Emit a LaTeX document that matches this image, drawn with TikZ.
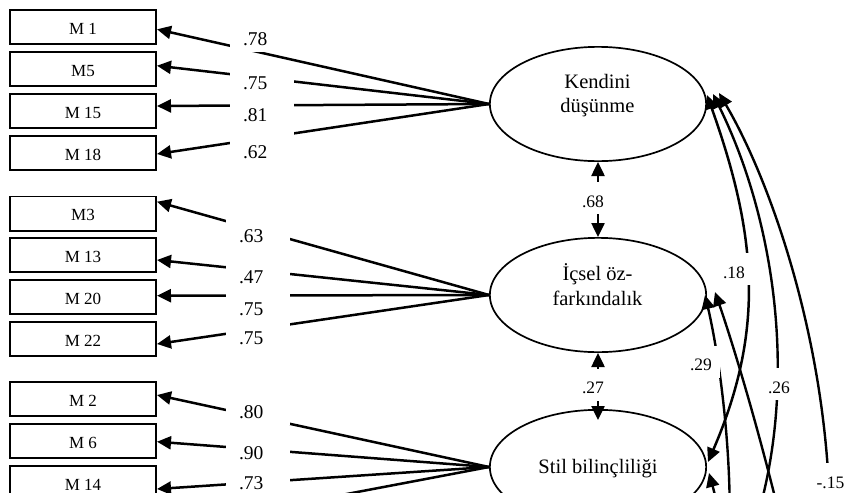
\documentclass[tikz,border=0pt]{standalone}
\usepackage{fontspec}
\setmainfont{Liberation Serif}
\usetikzlibrary{arrows.meta,shapes.geometric,calc}
\newcommand{\lablft}[1]{\makebox[64pt][l]{\hspace*{13pt}#1}}
\begin{document}
\begin{tikzpicture}[x=1pt,y=-1pt,
  mbox/.style={rectangle, draw, line width=1.9pt, minimum width=146.1pt, minimum height=34.1pt,
    inner sep=0pt, text height=14.8pt, text depth=0pt, font=\fontsize{17}{20}\selectfont},
  ell/.style={ellipse, draw, line width=1.7pt, minimum width=216.3pt, minimum height=114.3pt, inner sep=0pt},
  etext/.style={inner sep=0pt, font=\fontsize{20.5}{24}\selectfont},
  tip/.tip={Triangle[length=14pt, width=13pt]},
  load/.style={line width=2.5pt, -tip},
  dbl/.style={line width=2.5pt, tip-tip},
  covs/.style={line width=2.4pt, tip-},
  lab/.style={fill=white, inner sep=0pt, minimum height=33pt, text height=20.2pt, text depth=0pt,
    font=\fontsize{19.5}{20}\selectfont},
  rlab/.style={fill=white, inner sep=0pt, minimum width=38pt, minimum height=32pt, text height=18.8pt,
    text depth=0pt, font=\fontsize{17.5}{18}\selectfont}]
\path[use as bounding box] (0,0) rectangle (847,493);
\clip (0,0) rectangle (847,493);

% observed variables
\node[mbox] (m1)  at (83,27)    {M 1};
\node[mbox] (m5)  at (83,69)    {M5};
\node[mbox] (m15) at (83,111)   {M 15};
\node[mbox] (m18) at (83,153)   {M 18};
\node[mbox] (m3)  at (83,213.5) {M3};
\node[mbox] (m13) at (83,255)   {M 13};
\node[mbox] (m20) at (83,297)   {M 20};
\node[mbox] (m22) at (83,339)   {M 22};
\node[mbox] (m2)  at (83,399)   {M 2};
\node[mbox] (m6)  at (83,441)   {M 6};
\node[mbox] (m14) at (83,483)   {M 14};
\coordinate (h4) at (157,530);

% latent variables
\node[ell] (k) at (598,104) {};
\node[ell] (i) at (598,295) {};
\node[ell] (s) at (598,467) {};
\node[etext, anchor=base] (k1) at (597.5,88.3)  {Kendini};
\node[etext, anchor=base] (k2) at (597.5,112.7) {düşünme};
\node[etext, anchor=base] (i1) at (597.5,280)   {İçsel öz-};
\node[etext, anchor=base] (i2) at (597.5,305)   {farkındalık};
\node[etext, anchor=base] (s1) at (598,473.3)   {Stil bilinçliliği};

% hidden ends below the visible part
\coordinate (fb) at (709,625);
\coordinate (fc) at (829,490);
\coordinate (fd) at (712,640);
\coordinate (fe) at (790,560);
\coordinate (ff) at (712,640);

% loadings
\draw[load] (k.west) -- ($(m1.east)+(0,2.3)$);
\draw[load] (k.west) -- ($(m5.east)+(0,-3.3)$);
\draw[load] (k.west) -- ($(m15.east)+(0,-5)$);
\draw[load] (k.west) -- ($(m18.east)+(0,1)$);
\draw[load] (i.west) -- ($(m3.east)+(0,-11.8)$);
\draw[load] (i.west) -- ($(m13.east)+(0,5)$);
\draw[load] (i.west) -- ($(m20.east)+(0,-1.3)$);
\draw[load] (i.west) -- ($(m22.east)+(0,5)$);
\draw[load] (s.west) -- ($(m2.east)+(0,-4)$);
\draw[load] (s.west) -- ($(m6.east)+(0,0.7)$);
\draw[load] (s.west) -- ($(m14.east)+(0,6)$);
\draw[load] (s.west) -- (h4);

% factor correlations
\draw[dbl] (k.south) -- (i.north);
\draw[dbl] (i.south) -- ($(s.north)+(0,11)$);
\draw[dbl] ($(k.east)+(0,-9)$) .. controls (757,235) and (765,330) .. ($(s.east)+(1,-5)$);
\draw[covs] ($(k.east)+(6,-10)$) .. controls (790,250) and (808,470) .. (fb);
\draw[covs] ($(k.east)+(12,-11)$) .. controls (770,180) and (822,330) .. (fc);
\draw[covs] ($(i.east)+(-2,0)$) .. controls (725,380) and (745,560) .. (fd);
\draw[covs] ($(i.east)+(8,-3)$) .. controls (735,350) and (765,450) .. (fe);
\draw[covs] ($(s.east)+(2,6)$) .. controls (722,520) and (730,580) .. (ff);

% loading labels
\node[lab] (l1)  at (262,35)    {\lablft{.78}};
\node[lab] (l2)  at (262,79.5)  {\lablft{.75}};
\node[lab] (l3)  at (262,111.5) {\lablft{.81}};
\node[lab] (l4)  at (262,148.5) {\lablft{.62}};
\node[lab] (l5)  at (258,232.5) {\lablft{.63}};
\node[lab] (l6)  at (258,273.5) {\lablft{.47}};
\node[lab] (l7)  at (258,305.5) {\lablft{.75}};
\node[lab] (l8)  at (258,334.5) {\lablft{.75}};
\node[lab] (l9)  at (258,408.5) {\lablft{.80}};
\node[lab] (l10) at (258,449.5) {\lablft{.90}};
\node[lab] (l11) at (258,479.5) {\lablft{.73}};

% correlation labels
\node[rlab] (r1) at (593,198)   {.68};
\node[rlab] (r2) at (593,384.5) {.27};
\node[rlab] (r3) at (734,269)   {.18};
\node[rlab] (r4) at (701,361.5) {.29};
\node[rlab] (r5) at (779,384)   {.26};
\node[rlab] (r6) at (830.5,479) {-.15};
\end{tikzpicture}
\end{document}
